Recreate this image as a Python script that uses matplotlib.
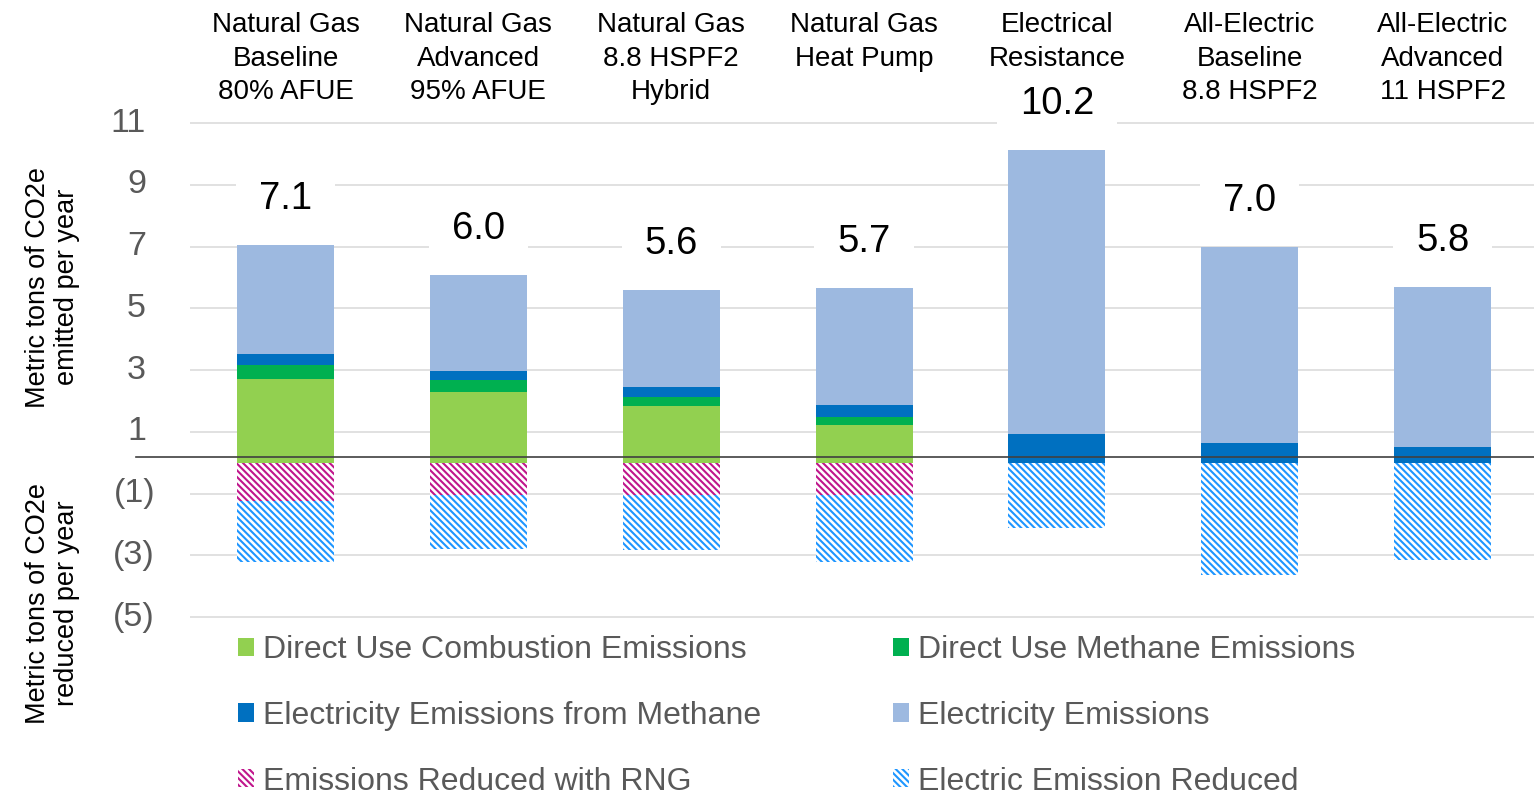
import matplotlib
matplotlib.use("Agg")
import matplotlib.pyplot as plt
import matplotlib.transforms as mtransforms
from matplotlib.patches import Patch

plt.rcParams['font.family'] = ['Liberation Sans', 'DejaVu Sans']
plt.rcParams['hatch.linewidth'] = 1.5

# Данные (тонны CO2e в год)
categories = ["Natural Gas\nBaseline\n80% AFUE", "Natural Gas\nAdvanced\n95% AFUE",
              "Natural Gas\n8.8 HSPF2\nHybrid", "Natural Gas\nHeat Pump",
              "Electrical\nResistance", "All-Electric\nBaseline\n8.8 HSPF2",
              "All-Electric\nAdvanced\n11 HSPF2"]
combustion = [2.72, 2.29, 1.84, 1.23, 0, 0, 0]
methane = [0.45, 0.39, 0.28, 0.25, 0, 0, 0]
elec_methane = [0.37, 0.29, 0.34, 0.38, 0.94, 0.64, 0.52]
elec = [3.51, 3.13, 3.14, 3.80, 9.19, 6.35, 5.18]
rng_reduced = [-1.23, -1.04, -1.04, -1.04, 0, 0, 0]
elec_reduced = [-1.97, -1.74, -1.78, -2.19, -2.10, -3.63, -3.16]
totals = [7.1, 6.0, 5.6, 5.7, 10.2, 7.0, 5.8]

yticks = [11, 9, 7, 5, 3, 1, -1, -3, -5]
ytick_labels = ["11", "9", "7", "5", "3", "1", "(1)", "(3)", "(5)"]

c_comb, c_meth, c_emeth, c_elec = "#92D050", "#00B050", "#0070C0", "#9DB9E0"
c_rng, c_ered = "#C0168C", "#1E96FF"
hatch = "\\" * 5
gray = "#595959"

fig = plt.figure(figsize=(15.34, 7.97), dpi=100)
ax = fig.add_axes([190/1534, 149/797, 1344/1534, 534/797])

x = list(range(len(categories)))
w = 0.503

b1 = combustion
b2 = [a + b for a, b in zip(b1, methane)]
b3 = [a + b for a, b in zip(b2, elec_methane)]
tops = [a + b for a, b in zip(b3, elec)]

ax.bar(x, combustion, w, color=c_comb)
ax.bar(x, methane, w, bottom=b1, color=c_meth)
ax.bar(x, elec_methane, w, bottom=b2, color=c_emeth)
ax.bar(x, elec, w, bottom=b3, color=c_elec)
ax.bar(x, rng_reduced, w, color="white", edgecolor=c_rng, hatch=hatch, linewidth=0)
ax.bar(x, elec_reduced, w, bottom=rng_reduced, color="white", edgecolor=c_ered,
       hatch=hatch, linewidth=0)

ax.set_xlim(-0.495, 6.474)
ax.set_ylim(-6, 11.3)
ax.set_yticks(yticks)
ax.set_yticklabels([])
ax.tick_params(axis='both', length=0)
ax.set_xticks([])
ax.grid(axis='y', color="#D9D9D9", linewidth=1.1)
ax.set_axisbelow(True)
for s in ax.spines.values():
    s.set_visible(False)

ax.axhline(0.18, xmin=-0.04, xmax=1, color="#404040", linewidth=1.2, clip_on=False)

# подписи оси Y в стиле Excel: (1), (3) ...
for v, lab in zip(yticks, ytick_labels):
    dx = -35 if v < 0 else -44
    tr = mtransforms.offset_copy(ax.get_yaxis_transform(), fig=fig, x=dx, y=0, units='dots')
    ax.text(0, v, lab, transform=tr, ha='right', va='center', fontsize=24.5, color=gray)

# суммы над столбцами
for xi, t, tot in zip(x, tops, totals):
    ax.annotate(f"{tot:.1f}", xy=(xi, t), xytext=(0, 33), textcoords='offset points',
                ha='center', va='center', fontsize=27.5, color='black',
                bbox=dict(boxstyle='square,pad=0.6', fc='white', ec='none'))

# категории сверху
tr_top = mtransforms.blended_transform_factory(ax.transData, fig.transFigure)
for xi, cat in zip(x, categories):
    ax.text(xi, 1 - 12/797, cat, transform=tr_top, ha='center', va='top',
            fontsize=20, color='black', linespacing=1.38)

fig.text(53/1534, 1 - 287/797, "Metric tons of CO2e\nemitted per year", rotation=90,
         ha='center', va='center', fontsize=19.5, color='black', linespacing=1.15)
fig.text(53/1534, 1 - 603/797, "Metric tons of CO2e\nreduced per year", rotation=90,
         ha='center', va='center', fontsize=19.5, color='black', linespacing=1.15)

handles = [Patch(facecolor=c_comb), Patch(facecolor=c_emeth),
           Patch(facecolor="white", edgecolor=c_rng, hatch=hatch, linewidth=0),
           Patch(facecolor=c_meth), Patch(facecolor=c_elec),
           Patch(facecolor="white", edgecolor=c_ered, hatch=hatch, linewidth=0)]
labels = ["Direct Use Combustion Emissions", "Electricity Emissions from Methane",
          "Emissions Reduced with RNG", "Direct Use Methane Emissions",
          "Electricity Emissions", "Electric Emission Reduced"]
fig.legend(handles, labels, ncol=2, loc='upper left', bbox_to_anchor=(238/1534, 1 - 635/797),
           frameon=False, fontsize=23, labelcolor=gray, handlelength=0.5, handleheight=0.5,
           handletextpad=0.28, columnspacing=4.14, labelspacing=1.12, borderpad=0,
           borderaxespad=0)

fig.savefig("out.png", dpi=100)
